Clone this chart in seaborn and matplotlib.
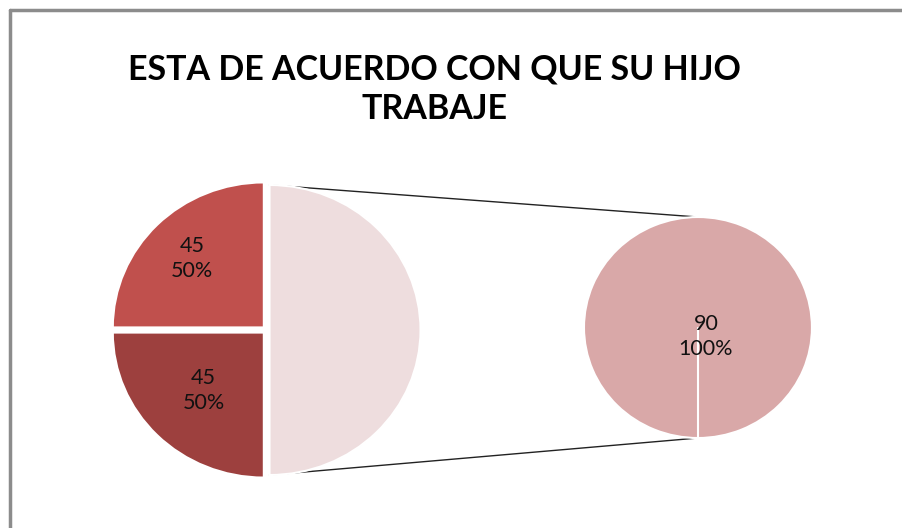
import matplotlib
matplotlib.use("Agg")
import matplotlib.pyplot as plt
import seaborn as sns
import numpy as np
from matplotlib.patches import ConnectionPatch

# data
main_values = [45, 45]
main_pcts = ["50%", "50%"]
bar_values = [90]
bar_pcts = ["100%"]
title = "ESTA DE ACUERDO CON QUE SU HIJO\nTRABAJE"

main_colors = ["#C0504D", "#9D403E", "#EEDDDE"]
bar_colors = ["#D9A8A8"]

sns.set_style("white")
plt.rcParams['font.family'] = ['Lato', 'DejaVu Sans']

fig = plt.figure(figsize=(9.02, 5.28), dpi=100)

# left pie: the two categories plus the "other" slice that opens into the second pie
ax1 = fig.add_axes([0.1113, 0.0729, 0.3683, 0.6042])
other = sum(bar_values)
w1, t1 = ax1.pie(main_values + [other], colors=main_colors, startangle=90,
                 counterclock=True, explode=[0.025, 0.025, 0.02],
                 labels=[f"{v}\n{p}" for v, p in zip(main_values, main_pcts)] + [""],
                 wedgeprops=dict(edgecolor="white", linewidth=1.5),
                 textprops=dict(fontsize=15.5, color="#111111", linespacing=1.3))
# Excel "best fit" places the two labels at slightly different radii
label_r = [0.70, 0.59]
for w, t, r in zip(w1, t1, label_r):
    ang = np.deg2rad((w.theta1 + w.theta2) / 2)
    t.set_position((r * np.cos(ang), r * np.sin(ang)))
    t.set_ha("center")
    t.set_va("center")
ax1.set_xlim(-1.1, 1.1)
ax1.set_ylim(-1.1, 1.1)
ax1.set_aspect("auto")
ax1.axis("off")

# right pie
ax2 = fig.add_axes([0.6348, 0.1495, 0.2780, 0.4604])
w2, t2 = ax2.pie(bar_values, colors=bar_colors, startangle=270,
                 labels=[f"{v}\n{p}" for v, p in zip(bar_values, bar_pcts)],
                 labeldistance=0,
                 wedgeprops=dict(edgecolor="white", linewidth=1.5),
                 textprops=dict(fontsize=15.5, color="#111111", linespacing=1.3))
for t in t2:
    t.set_position((0.07, -0.08))
    t.set_ha("center")
    t.set_va("center")
# slice boundary of the single wedge
ax2.axvline(0, ymin=0.05, ymax=0.5, color="white", lw=1.5)
ax2.set_xlim(-1.1, 1.1)
ax2.set_ylim(-1.1, 1.1)
ax2.set_aspect("auto")
ax2.axis("off")

# connector lines from the "other" slice to the second pie
for ya in [1, -1]:
    con = ConnectionPatch(xyA=(0.02, ya), coordsA=ax1.transData,
                          xyB=(0, ya), coordsB=ax2.transData,
                          color="#222222", lw=1)
    con.set_zorder(0)
    fig.add_artist(con)

# frame of the chart area (only left and top show)
fig.add_artist(plt.Line2D([0.0106, 0.0106], [0, 1 - 9.5 / 528], color="#8c8c8c", lw=2.5))
fig.add_artist(plt.Line2D([0.0106, 1], [1 - 9.5 / 528, 1 - 9.5 / 528], color="#8c8c8c", lw=2.5))

fig.text(0.482, 1 - 89 / 528, title, ha="center", va="center", color="black",
         fontsize=24.5, fontweight="bold", linespacing=1.3)

fig.savefig("out.png", dpi=100)
